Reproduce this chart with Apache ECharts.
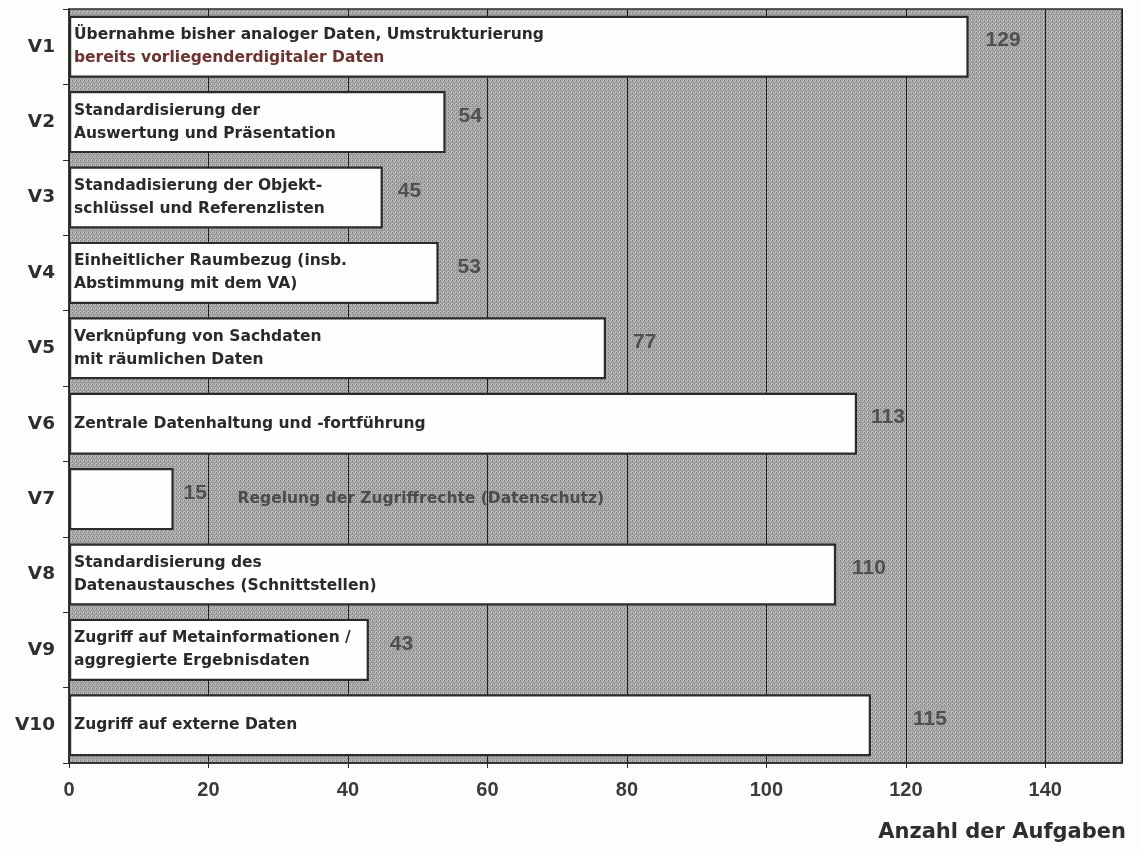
<!DOCTYPE html>
<html>
<head>
<meta charset="utf-8">
<title>Anzahl der Aufgaben</title>
<script src="https://cdn.jsdelivr.net/npm/echarts@6/dist/echarts.min.js"></script>
<style>
  html, body { margin: 0; padding: 0; background: #fdfdfb; }
  #chart { width: 1140px; height: 852px; }
</style>
</head>
<body>
<div id="chart"></div>
<script>
// Kategorien (Handlungsfelder V1 … V10)
const categories = ['V1', 'V2', 'V3', 'V4', 'V5', 'V6', 'V7', 'V8', 'V9', 'V10'];

// Anzahl der Aufgaben je Handlungsfeld
const counts = [129, 54, 45, 53, 77, 113, 15, 110, 43, 115];

// Beschreibung je Handlungsfeld
const descriptions = [
  'Übernahme bisher analoger Daten, Umstrukturierung\nbereits vorliegenderdigitaler Daten',
  'Standardisierung der\nAuswertung und Präsentation',
  'Standadisierung der Objekt-\nschlüssel und Referenzlisten',
  'Einheitlicher Raumbezug (insb.\nAbstimmung mit dem VA)',
  'Verknüpfung von Sachdaten\nmit räumlichen Daten',
  'Zentrale Datenhaltung und -fortführung',
  'Regelung der Zugriffrechte (Datenschutz)',
  'Standardisierung des\nDatenaustausches (Schnittstellen)',
  'Zugriff auf Metainformationen /\naggregierte Ergebnisdaten',
  'Zugriff auf externe Daten'
];

// Achsenbereich der Werteachse
const axisMin = 0;
const axisMax = 151;
const axisStep = 20;

// Darstellung: Abstand der Wertbeschriftung rechts neben dem Balken
const valueLabelGap = [17, 13, 15, 19, 27, 14, 10, 16, 21, 42];
// Beschreibungen, die neben statt im Balken stehen (Index -> Abstand)
const outsideDescription = { 6: 64 };

// fein gerasterter Grauton für die Zeichenfläche
function makeRaster() {
  const c = document.createElement('canvas');
  c.width = 4; c.height = 4;
  const g = c.getContext('2d');
  g.fillStyle = '#adadad';
  g.fillRect(0, 0, 4, 4);
  const dark = ['#8a8a8a', '#939393', '#858585', '#8f8f8f'];
  const pts = [[0, 0], [2, 0], [1, 2], [3, 2], [0, 1], [2, 3]];
  pts.forEach((p, i) => {
    g.fillStyle = dark[i % dark.length];
    g.fillRect(p[0], p[1], 1, 1);
  });
  g.fillStyle = '#c0c0c0';
  g.fillRect(1, 1, 1, 1);
  g.fillRect(3, 3, 1, 1);
  g.fillRect(3, 0, 1, 1);
  return c;
}

const TEXT_FONT = '"DejaVu Sans", "Liberation Sans", Arial, sans-serif';
const NUM_FONT = '"Liberation Sans", Arial, sans-serif';

const descData = counts.map((v, i) => {
  const item = { value: v };
  if (outsideDescription[i] !== undefined) {
    item.label = {
      position: 'right',
      distance: outsideDescription[i],
      rich: { t: { color: '#4c4c4c' } }
    };
  }
  return item;
});

const valueData = counts.map((v, i) => ({
  value: v,
  label: { distance: valueLabelGap[i] }
}));

const chart = echarts.init(document.getElementById('chart'), null, { renderer: 'canvas' });

chart.setOption({
  animation: false,
  backgroundColor: '#fdfdfb',
  title: {
    text: 'Anzahl der Aufgaben',
    right: 9,
    top: 817,
    textStyle: {
      fontFamily: TEXT_FONT,
      fontWeight: 'bold',
      fontSize: 21,
      color: '#2e2e2e'
    }
  },
  grid: {
    show: true,
    left: 69,
    right: 18,
    top: 9,
    bottom: 89,
    containLabel: false,
    backgroundColor: { image: makeRaster(), repeat: 'repeat' },
    borderColor: '#2e2e2e',
    borderWidth: 1.5
  },
  xAxis: {
    type: 'value',
    min: axisMin,
    max: axisMax,
    interval: axisStep,
    axisLine: { show: true, lineStyle: { color: '#2a2a2a', width: 1.5 } },
    axisTick: { show: true, length: 5, lineStyle: { color: '#2a2a2a' } },
    splitLine: { show: true, lineStyle: { color: '#1e1e1e', width: 1 } },
    axisLabel: {
      showMaxLabel: false,
      margin: 17,
      fontFamily: NUM_FONT,
      fontWeight: 'bold',
      fontSize: 20,
      color: '#3a3a3a'
    }
  },
  yAxis: {
    type: 'category',
    inverse: true,
    data: categories,
    axisLine: { show: true, lineStyle: { color: '#2a2a2a', width: 1.5 } },
    axisTick: { show: true, length: 6, lineStyle: { color: '#2a2a2a' } },
    axisLabel: {
      margin: 14,
      fontFamily: TEXT_FONT,
      fontWeight: 'bold',
      fontSize: 18.5,
      color: '#2e2e2e'
    }
  },
  series: [
    {
      name: 'Aufgaben',
      type: 'bar',
      data: descData,
      barWidth: 62,
      itemStyle: {
        color: '#fefefc',
        borderColor: '#2b2b2b',
        borderWidth: 2.2
      },
      label: {
        show: true,
        position: 'insideLeft',
        distance: 5,
        formatter: (p) => {
          const lines = descriptions[p.dataIndex].split('\n');
          return lines.map((ln, k) => {
            const style = (p.dataIndex === 0 && k === 1) ? 'r' : 't';
            return '{' + style + '|' + ln + '}';
          }).join('\n');
        },
        rich: {
          t: {
            fontFamily: TEXT_FONT,
            fontWeight: 'bold',
            fontSize: 15.5,
            lineHeight: 23,
            color: '#2a2a2a'
          },
          r: {
            fontFamily: TEXT_FONT,
            fontWeight: 'bold',
            fontSize: 15.5,
            lineHeight: 23,
            color: '#6e3232'
          }
        }
      },
      z: 2
    },
    {
      name: 'Wert',
      type: 'bar',
      data: valueData,
      barWidth: 62,
      barGap: '-100%',
      silent: true,
      itemStyle: { color: 'rgba(0,0,0,0)' },
      label: {
        show: true,
        position: 'right',
        offset: [0, -6],
        fontFamily: NUM_FONT,
        fontWeight: 'bold',
        fontSize: 21,
        color: '#505050'
      },
      z: 3
    }
  ]
});
</script>
</body>
</html>
